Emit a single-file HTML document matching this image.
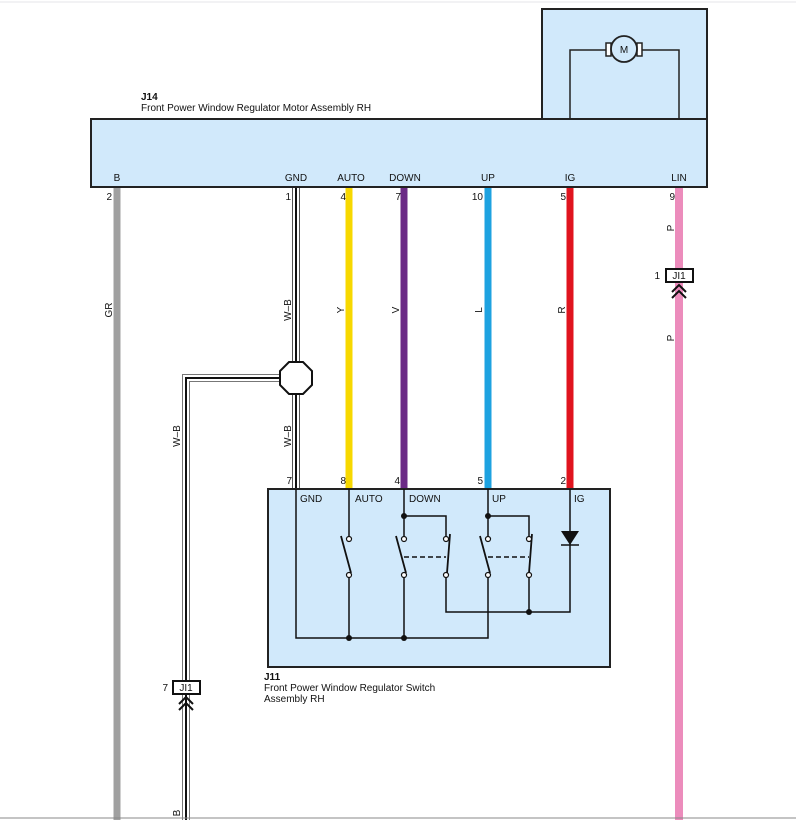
<!DOCTYPE html>
<html><head><meta charset="utf-8"><style>
html,body{margin:0;padding:0;background:#fff;}
svg{display:block;font-family:"Liberation Sans",Arial,sans-serif;}
text{font-size:10px;fill:#111;}
</style></head><body>
<svg width="796" height="820" viewBox="0 0 796 820" xmlns="http://www.w3.org/2000/svg">
<line x1="0" y1="2" x2="796" y2="2" stroke="#e4e4ea" stroke-width="1"/>
<!-- J14 boxes -->
<rect x="542" y="9" width="165" height="110" fill="#d1e9fb" stroke="#222" stroke-width="2"/>
<rect x="91" y="119" width="616" height="68" fill="#d1e9fb" stroke="#222" stroke-width="2"/>
<polyline points="570,118 570,50 608,50" fill="none" stroke="#222" stroke-width="1.5"/>
<polyline points="640,50 679,50 679,118" fill="none" stroke="#222" stroke-width="1.5"/>
<rect x="606" y="43" width="5" height="13" fill="#fff" stroke="#222" stroke-width="1.5"/>
<rect x="637" y="43" width="5" height="13" fill="#fff" stroke="#222" stroke-width="1.5"/>
<circle cx="624" cy="49" r="13" fill="#d1e9fb" stroke="#222" stroke-width="1.8"/>
<text x="624" y="53" text-anchor="middle" style="font-size:10px">M</text>
<text x="141" y="100" style="font-weight:bold;font-size:10px">J14</text>
<text x="141" y="111">Front Power Window Regulator Motor Assembly RH</text>
<!-- pin labels on J14 -->
<text x="117" y="181" text-anchor="middle">B</text>
<text x="296" y="181" text-anchor="middle">GND</text>
<text x="351" y="181" text-anchor="middle">AUTO</text>
<text x="405" y="181" text-anchor="middle">DOWN</text>
<text x="488" y="181" text-anchor="middle">UP</text>
<text x="570" y="181" text-anchor="middle">IG</text>
<text x="679" y="181" text-anchor="middle">LIN</text>
<text x="112" y="200" text-anchor="end">2</text>
<text x="291" y="200" text-anchor="end">1</text>
<text x="346" y="200" text-anchor="end">4</text>
<text x="401" y="200" text-anchor="end">7</text>
<text x="483" y="200" text-anchor="end">10</text>
<text x="566" y="200" text-anchor="end">5</text>
<text x="675" y="200" text-anchor="end">9</text>
<!-- wires -->
<line x1="117" y1="188" x2="117" y2="820" stroke="#a0a0a0" stroke-width="7"/>
<line x1="349" y1="188" x2="349" y2="489" stroke="#f7d800" stroke-width="7"/>
<line x1="404" y1="188" x2="404" y2="489" stroke="#6b2a86" stroke-width="7"/>
<line x1="488" y1="188" x2="488" y2="489" stroke="#1ea2e0" stroke-width="7"/>
<line x1="570" y1="188" x2="570" y2="489" stroke="#e0141e" stroke-width="7"/>
<line x1="679" y1="188" x2="679" y2="820" stroke="#ec8cbc" stroke-width="8"/>
<!-- W-B double wires -->
<g fill="none">
<path d="M296,188 V489" stroke="#555" stroke-width="8"/>
<path d="M296,188 V489" stroke="#fff" stroke-width="6"/>
<path d="M296,188 V489" stroke="#111" stroke-width="2"/>
<path d="M296,378 H186 V820" stroke="#777" stroke-width="8"/>
<path d="M296,378 H186 V820" stroke="#fff" stroke-width="6"/>
<path d="M296,378 H186 V820" stroke="#111" stroke-width="2"/>
</g>
<polygon points="289,362 303,362 312,371 312,385 303,394 289,394 280,385 280,371" fill="#fff" stroke="#111" stroke-width="2"/>
<!-- wire labels -->
<g style="font-size:10px">
<text transform="translate(112,310) rotate(-90)" text-anchor="middle">GR</text>
<text transform="translate(291,310) rotate(-90)" text-anchor="middle">W–B</text>
<text transform="translate(344,310) rotate(-90)" text-anchor="middle">Y</text>
<text transform="translate(399,310) rotate(-90)" text-anchor="middle">V</text>
<text transform="translate(482,310) rotate(-90)" text-anchor="middle">L</text>
<text transform="translate(565,310) rotate(-90)" text-anchor="middle">R</text>
<text transform="translate(674,228) rotate(-90)" text-anchor="middle">P</text>
<text transform="translate(674,338) rotate(-90)" text-anchor="middle">P</text>
<text transform="translate(180,436) rotate(-90)" text-anchor="middle">W–B</text>
<text transform="translate(291,436) rotate(-90)" text-anchor="middle">W–B</text>
<text transform="translate(180,813) rotate(-90)" text-anchor="middle">B</text>
</g>
<!-- JI1 connectors -->
<rect x="666" y="269" width="27" height="13" fill="#fff" stroke="#111" stroke-width="2"/>
<text x="679" y="279" text-anchor="middle">JI1</text>
<text x="660" y="279" text-anchor="end">1</text>
<polyline points="672,292 679,285 686,292" fill="none" stroke="#111" stroke-width="2"/>
<polyline points="672,298 679,291 686,298" fill="none" stroke="#111" stroke-width="2"/>
<rect x="173" y="681" width="27" height="13" fill="#fff" stroke="#111" stroke-width="2"/>
<text x="186" y="691" text-anchor="middle">JI1</text>
<text x="168" y="691" text-anchor="end">7</text>
<polyline points="179,704 186,697 193,704" fill="none" stroke="#111" stroke-width="2"/>
<polyline points="179,710 186,703 193,710" fill="none" stroke="#111" stroke-width="2"/>
<!-- switch box -->
<rect x="268" y="489" width="342" height="178" fill="#d1e9fb" stroke="#222" stroke-width="2"/>
<text x="292" y="484" text-anchor="end">7</text>
<text x="346" y="484" text-anchor="end">8</text>
<text x="400" y="484" text-anchor="end">4</text>
<text x="483" y="484" text-anchor="end">5</text>
<text x="566" y="484" text-anchor="end">2</text>
<text x="300" y="502">GND</text>
<text x="355" y="502">AUTO</text>
<text x="409" y="502">DOWN</text>
<text x="492" y="502">UP</text>
<text x="574" y="502">IG</text>
<g fill="none" stroke="#111" stroke-width="1.5">
<path d="M296,489 V638 H488 V575"/>
<path d="M349,489 V537 M349,577 V638"/>
<path d="M404,489 V537 M404,577 V638 M404,516 H446 V537"/>
<path d="M446,577 V612 H570 V489"/>
<path d="M488,489 V537 M488,516 H529 V537 M529,577 V612"/>
<path d="M341,536 L351,573 M396,536 L406,573 M450,534 L447,573 M480,536 L490,573 M532,534 L529,573" stroke-width="1.8"/>
<path d="M404,557 H446 M488,557 H529" stroke-dasharray="5,3"/>
<path d="M561,545 H579"/>
</g>
<polygon points="561,531 579,531 570,545" fill="#111"/>
<g fill="#fff" stroke="#111" stroke-width="1.2">
<circle cx="349" cy="539" r="2.5"/><circle cx="349" cy="575" r="2.5"/>
<circle cx="404" cy="539" r="2.5"/><circle cx="404" cy="575" r="2.5"/>
<circle cx="446" cy="539" r="2.5"/><circle cx="446" cy="575" r="2.5"/>
<circle cx="488" cy="539" r="2.5"/><circle cx="488" cy="575" r="2.5"/>
<circle cx="529" cy="539" r="2.5"/><circle cx="529" cy="575" r="2.5"/>
</g>
<g fill="#111">
<circle cx="404" cy="516" r="3"/><circle cx="488" cy="516" r="3"/>
<circle cx="349" cy="638" r="3"/><circle cx="404" cy="638" r="3"/>
<circle cx="529" cy="612" r="3"/>
</g>
<text x="264" y="680" style="font-weight:bold">J11</text>
<text x="264" y="691">Front Power Window Regulator Switch</text>
<text x="264" y="702">Assembly RH</text>
<line x1="0" y1="818" x2="796" y2="818" stroke="#888" stroke-width="1"/>
</svg>
</body></html>
